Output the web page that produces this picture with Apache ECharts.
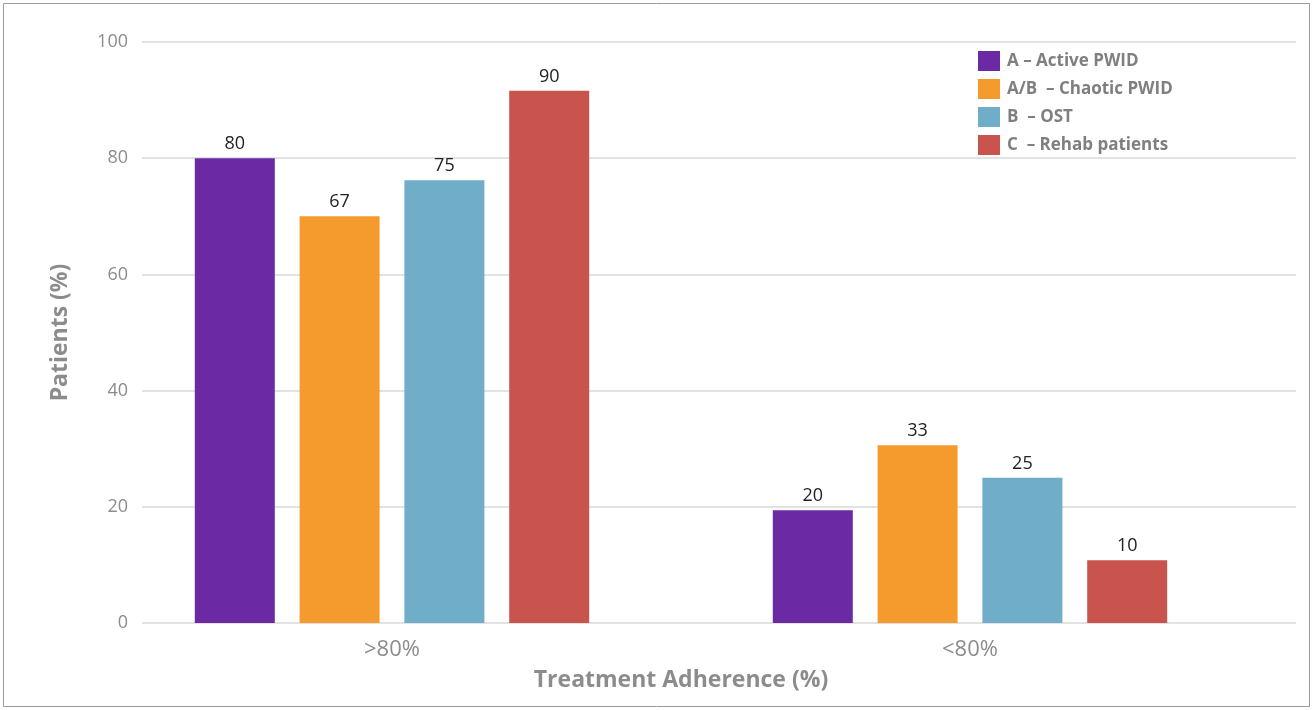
<!DOCTYPE html>
<html>
<head>
<meta charset="utf-8">
<script src="https://cdn.jsdelivr.net/npm/echarts@6/dist/echarts.min.js"></script>
<style>html,body{margin:0;padding:0;background:#fff;}#c{width:1314px;height:710px;}</style>
</head>
<body>
<div id="c"></div>
<script>
const categories = ['>80%', '<80%'];
const seriesNames = ['A – Active PWID', 'A/B  – Chaotic PWID', 'B  – OST', 'C  – Rehab patients'];
const activePWID = [80, 19.4];
const chaoticPWID = [70, 30.6];
const ost = [76.2, 25];
const rehab = [91.6, 10.8];
const activeLabels = ['80', '20'];
const chaoticLabels = ['67', '33'];
const ostLabels = ['75', '25'];
const rehabLabels = ['90', '10'];
const yTicks = [0, 20, 40, 60, 80, 100];

const colors = ['#6b2aa3', '#f59a2c', '#6fadc9', '#c9544e'];
const values = [activePWID, chaoticPWID, ost, rehab];
const labels = [activeLabels, chaoticLabels, ostLabels, rehabLabels];

const chart = echarts.init(document.getElementById('c'));
chart.setOption({
  animation: false,
  backgroundColor: '#fff',
  graphic: [{
    type: 'rect', shape: {x: 3.5, y: 3.5, width: 1306, height: 703},
    style: {fill: 'none', stroke: '#9a9a9a', lineWidth: 1}, silent: true
  }],
  legend: {
    data: seriesNames,
    orient: 'vertical',
    left: 973, top: 46,
    itemWidth: 22, itemHeight: 20, itemGap: 8,
    icon: 'rect',
    textStyle: {color: '#7f7f7f', fontSize: 17, fontWeight: 'bold', fontFamily: 'Open Sans', padding: [0, 0, 0, 2]}
  },
  grid: [
    {left: 142, right: 18, top: 42, bottom: 87},
    {left: 103, right: 55, top: 42, bottom: 87}
  ],
  xAxis: [
    {gridIndex: 0, type: 'value', min: 0, max: 1, show: false},
    {
      gridIndex: 1, type: 'category', data: categories,
      axisLine: {show: false}, axisTick: {show: false},
      axisLabel: {color: '#8c8c8c', fontSize: 22, fontFamily: 'Open Sans', margin: 16},
      name: 'Treatment Adherence (%)', nameLocation: 'middle', nameGap: 46,
      nameTextStyle: {color: '#8c8c8c', fontSize: 23, fontWeight: 'bold', fontFamily: 'Open Sans'}
    }
  ],
  yAxis: [
    {
      gridIndex: 0, type: 'value', min: 0, max: 100, interval: 20,
      axisLine: {show: false}, axisTick: {show: false},
      axisLabel: {color: '#8c8c8c', fontSize: 18, fontFamily: 'Open Sans', margin: 14,
        formatter: v => yTicks.includes(v) ? String(v) : ''},
      splitLine: {lineStyle: {color: '#d9d9d9', width: 1.5}},
      name: 'Patients (%)', nameLocation: 'middle', nameGap: 70, nameRotate: 90,
      nameTextStyle: {color: '#8c8c8c', fontSize: 23, fontWeight: 'bold', fontFamily: 'Open Sans'}
    },
    {gridIndex: 1, type: 'value', min: 0, max: 100, show: false}
  ],
  series: seriesNames.map((n, i) => ({
    name: n, type: 'bar', xAxisIndex: 1, yAxisIndex: 1,
    data: values[i], barWidth: 80, barGap: '31%',
    itemStyle: {color: colors[i]},
    label: {
      show: true, position: 'top', distance: 5, color: '#222', fontSize: 18, fontFamily: 'Open Sans',
      formatter: p => labels[i][p.dataIndex]
    }
  }))
});
</script>
</body>
</html>
